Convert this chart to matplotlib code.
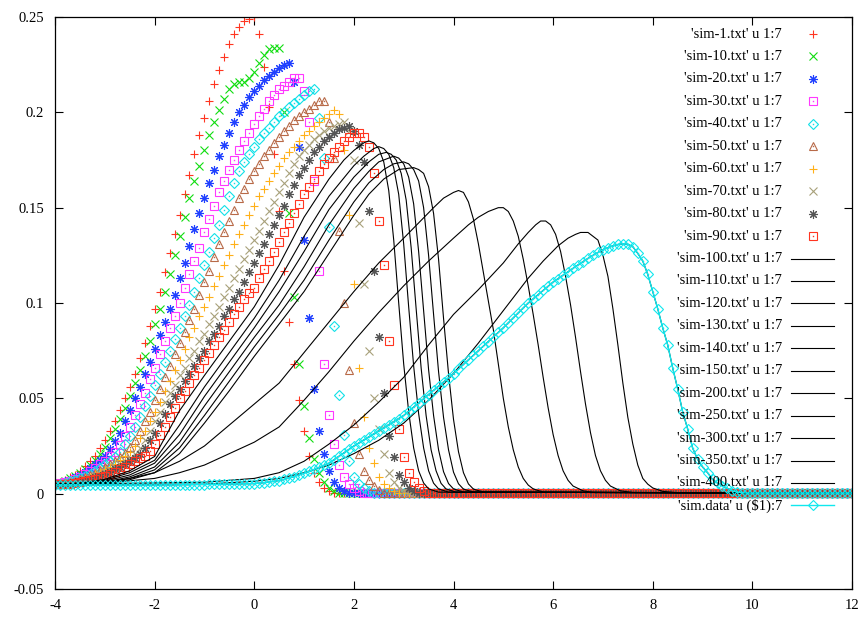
import numpy as np
import matplotlib.pyplot as plt

plt.rcParams['font.family'] = ['Liberation Serif', 'DejaVu Serif']

# marker runs: y read every 0.1 starting at x=-4, after the drop they sit on the baseline up to x=12
X_START, X_STEP, X_END = -4.0, 0.1, 12.0
BASELINE = 0.0003

sim1 = [0.005, 0.006, 0.007, 0.0085, 0.010, 0.012, 0.0145, 0.017, 0.020, 0.024,
        0.028, 0.033, 0.038, 0.044, 0.050, 0.056, 0.063, 0.071, 0.079, 0.088,
        0.097, 0.106, 0.116, 0.126, 0.136, 0.146, 0.157, 0.167, 0.178, 0.188,
        0.197, 0.206, 0.215, 0.222, 0.229, 0.236, 0.241, 0.245, 0.248, 0.249,
        0.250, 0.241, 0.224, 0.203, 0.178, 0.148, 0.117, 0.090, 0.068, 0.049,
        0.033, 0.020, 0.011, 0.006, 0.003, 0.0015]
sim10 = [0.005, 0.0058, 0.0068, 0.008, 0.0094, 0.011, 0.013, 0.0152, 0.0178, 0.021,
         0.0245, 0.029, 0.034, 0.039, 0.045, 0.051, 0.058, 0.065, 0.072, 0.080,
         0.089, 0.097, 0.106, 0.115, 0.125, 0.135, 0.145, 0.155, 0.164, 0.172,
         0.180, 0.188, 0.195, 0.201, 0.207, 0.212, 0.215, 0.216, 0.216, 0.218,
         0.221, 0.226, 0.230, 0.233, 0.234, 0.234, 0.200, 0.147, 0.103, 0.068,
         0.046, 0.029, 0.018, 0.011, 0.006, 0.003, 0.0015]
sim20 = [0.005, 0.0056, 0.0064, 0.0074, 0.0086, 0.010, 0.0115, 0.0133, 0.0153, 0.0175,
         0.020, 0.0235, 0.0275, 0.032, 0.038, 0.044, 0.050, 0.056, 0.063, 0.069,
         0.076, 0.083, 0.090, 0.097, 0.104, 0.113, 0.121, 0.130, 0.139, 0.147,
         0.155, 0.163, 0.170, 0.177, 0.183, 0.189, 0.195, 0.200, 0.204, 0.208,
         0.211, 0.214, 0.217, 0.219, 0.221, 0.223, 0.225, 0.226, 0.216, 0.182,
         0.133, 0.092, 0.055, 0.033, 0.021, 0.012, 0.006, 0.003, 0.0015]
sim30 = [0.005, 0.0054, 0.006, 0.0068, 0.0078, 0.0089, 0.0102, 0.0117, 0.0134, 0.0153,
         0.0173, 0.0195, 0.022, 0.0255, 0.030, 0.035, 0.041, 0.047, 0.053, 0.060,
         0.066, 0.073, 0.080, 0.087, 0.093, 0.100, 0.108, 0.115, 0.122, 0.129,
         0.137, 0.144, 0.151, 0.158, 0.164, 0.170, 0.175, 0.180, 0.185, 0.189,
         0.194, 0.198, 0.202, 0.206, 0.209, 0.212, 0.214, 0.216, 0.218, 0.218,
         0.211, 0.195, 0.164, 0.117, 0.068, 0.041, 0.026, 0.015, 0.009, 0.005,
         0.003, 0.0015]
sim40 = [0.005, 0.0053, 0.0058, 0.0065, 0.0073, 0.0082, 0.0093, 0.0105, 0.0119, 0.0135,
         0.0153, 0.0173, 0.0193, 0.022, 0.026, 0.030, 0.035, 0.040, 0.046, 0.051,
         0.057, 0.063, 0.069, 0.075, 0.081, 0.087, 0.093, 0.099, 0.106, 0.113,
         0.120, 0.127, 0.134, 0.141, 0.149, 0.156, 0.163, 0.169, 0.174, 0.178,
         0.182, 0.186, 0.189, 0.192, 0.195, 0.198, 0.200, 0.203, 0.205, 0.207,
         0.209, 0.211, 0.212, 0.197, 0.176, 0.140, 0.088, 0.052, 0.031, 0.017,
         0.009, 0.005, 0.003, 0.0015]
sim50 = [0.005, 0.0052, 0.0056, 0.0062, 0.0069, 0.0077, 0.0087, 0.0098, 0.011, 0.0124,
         0.014, 0.0157, 0.0172, 0.019, 0.0215, 0.0245, 0.028, 0.033, 0.038, 0.043,
         0.049, 0.055, 0.061, 0.067, 0.073, 0.079, 0.085, 0.091, 0.097, 0.104,
         0.111, 0.117, 0.124, 0.131, 0.137, 0.143, 0.149, 0.155, 0.160, 0.165,
         0.169, 0.173, 0.177, 0.180, 0.184, 0.187, 0.190, 0.193, 0.196, 0.198,
         0.200, 0.202, 0.204, 0.206, 0.206, 0.195, 0.176, 0.138, 0.100, 0.065,
         0.037, 0.021, 0.012, 0.007, 0.004, 0.002]
sim60 = [0.005, 0.0051, 0.0054, 0.0059, 0.0065, 0.0072, 0.008, 0.009, 0.0101, 0.0113,
         0.0127, 0.0142, 0.0158, 0.0176, 0.0195, 0.022, 0.025, 0.029, 0.033, 0.038,
         0.043, 0.048, 0.054, 0.059, 0.065, 0.070, 0.076, 0.082, 0.087, 0.093,
         0.098, 0.103, 0.109, 0.114, 0.120, 0.125, 0.131, 0.136, 0.141, 0.146,
         0.151, 0.156, 0.160, 0.164, 0.168, 0.172, 0.176, 0.179, 0.182, 0.185,
         0.188, 0.190, 0.193, 0.195, 0.197, 0.199, 0.201, 0.199, 0.180, 0.146,
         0.110, 0.066, 0.040, 0.024, 0.016, 0.009, 0.005, 0.003, 0.0015]
sim70 = [0.005, 0.005, 0.0053, 0.0057, 0.0062, 0.0068, 0.0075, 0.0083, 0.0092, 0.0102,
         0.0113, 0.0126, 0.014, 0.0155, 0.0171, 0.0188, 0.021, 0.024, 0.028, 0.033,
         0.038, 0.043, 0.048, 0.053, 0.057, 0.062, 0.066, 0.071, 0.075, 0.080,
         0.084, 0.089, 0.093, 0.098, 0.103, 0.108, 0.113, 0.118, 0.123, 0.128,
         0.133, 0.138, 0.143, 0.148, 0.153, 0.158, 0.163, 0.168, 0.173, 0.177,
         0.180, 0.183, 0.186, 0.188, 0.190, 0.192, 0.193, 0.194, 0.195, 0.190,
         0.175, 0.142, 0.110, 0.075, 0.050, 0.034, 0.021, 0.011, 0.006, 0.003,
         0.0015]
sim80 = [0.005, 0.005, 0.0052, 0.0055, 0.0059, 0.0064, 0.007, 0.0077, 0.0085, 0.0094,
         0.0104, 0.0115, 0.0127, 0.014, 0.0154, 0.0169, 0.0187, 0.021, 0.024, 0.028,
         0.032, 0.037, 0.042, 0.047, 0.051, 0.055, 0.059, 0.063, 0.067, 0.071,
         0.075, 0.080, 0.084, 0.088, 0.093, 0.097, 0.102, 0.106, 0.111, 0.116,
         0.121, 0.126, 0.131, 0.136, 0.141, 0.146, 0.151, 0.157, 0.162, 0.167,
         0.171, 0.175, 0.179, 0.182, 0.185, 0.187, 0.189, 0.191, 0.192, 0.193,
         0.190, 0.183, 0.174, 0.148, 0.117, 0.082, 0.053, 0.030, 0.019, 0.010,
         0.006, 0.003, 0.0015]
sim90 = [0.005, 0.005, 0.0051, 0.0053, 0.0056, 0.006, 0.0065, 0.0071, 0.0078, 0.0086,
         0.0095, 0.0105, 0.0116, 0.0128, 0.0141, 0.0155, 0.017, 0.0186, 0.020, 0.0225,
         0.026, 0.031, 0.035, 0.040, 0.045, 0.050, 0.054, 0.058, 0.062, 0.066,
         0.070, 0.074, 0.078, 0.082, 0.086, 0.090, 0.094, 0.098, 0.102, 0.105,
         0.108, 0.113, 0.118, 0.122, 0.127, 0.132, 0.137, 0.142, 0.147, 0.152,
         0.157, 0.161, 0.165, 0.169, 0.173, 0.176, 0.179, 0.182, 0.185, 0.187,
         0.189, 0.189, 0.187, 0.182, 0.168, 0.143, 0.120, 0.080, 0.057, 0.034,
         0.019, 0.011, 0.006, 0.003, 0.0015]

# line runs: (x, y) points
s100_x = [-4, -3.5, -3, -2.5, -2, -1.5, -1, -0.5, 0, 0.5, 1, 1.5, 1.8, 2, 2.2, 2.3, 2.4, 2.5, 2.6,
          2.7, 2.8, 2.9, 3.0, 3.1, 3.2, 3.3, 3.4, 3.5, 3.7, 12]
s100_y = [0.005, 0.0055, 0.0075, 0.012, 0.0195, 0.0435, 0.062, 0.080, 0.098, 0.120, 0.145, 0.165,
          0.175, 0.180, 0.184, 0.185, 0.184, 0.181, 0.174, 0.159, 0.133, 0.100, 0.068, 0.043,
          0.024, 0.012, 0.0056, 0.0025, 0.0008, 0.0003]
s110_x = [-4, -3.5, -3, -2.5, -2, -1.5, -1, -0.5, 0, 0.5, 1, 1.5, 2, 2.2, 2.4, 2.5, 2.6, 2.7,
          2.8, 2.9, 3.0, 3.1, 3.2, 3.3, 3.4, 3.5, 3.6, 3.7, 3.9, 12]
s110_y = [0.005, 0.0054, 0.007, 0.011, 0.0175, 0.036, 0.056, 0.074, 0.092, 0.112, 0.135, 0.156,
          0.172, 0.177, 0.181, 0.182, 0.181, 0.178, 0.171, 0.157, 0.131, 0.098, 0.067, 0.042,
          0.024, 0.012, 0.0055, 0.0025, 0.0008, 0.0003]
s120_x = [-4, -3.5, -3, -2.5, -2, -1.5, -1, -0.5, 0, 0.5, 1, 1.5, 2, 2.3, 2.5, 2.65, 2.75, 2.85,
          2.95, 3.05, 3.15, 3.25, 3.35, 3.45, 3.55, 3.65, 3.75, 3.85, 4.05, 12]
s120_y = [0.005, 0.0053, 0.0065, 0.0098, 0.016, 0.031, 0.051, 0.069, 0.087, 0.106, 0.127, 0.149,
          0.166, 0.174, 0.178, 0.179, 0.178, 0.175, 0.168, 0.154, 0.129, 0.097, 0.066, 0.041,
          0.023, 0.012, 0.0054, 0.0025, 0.0008, 0.0003]
s130_x = [-4, -3.5, -3, -2.5, -2, -1.5, -1, -0.5, 0, 0.5, 1, 1.5, 2, 2.3, 2.5, 2.7, 2.8, 2.9,
          3.0, 3.1, 3.2, 3.3, 3.4, 3.5, 3.6, 3.7, 3.8, 3.9, 4.0, 4.2, 12]
s130_y = [0.005, 0.0052, 0.006, 0.0088, 0.014, 0.027, 0.046, 0.064, 0.082, 0.099, 0.119, 0.141,
          0.160, 0.169, 0.174, 0.176, 0.177, 0.176, 0.173, 0.166, 0.152, 0.127, 0.096, 0.065,
          0.041, 0.023, 0.0115, 0.0053, 0.0025, 0.0008, 0.0003]
s140_x = [-4, -3.5, -3, -2.5, -2, -1.5, -1, -0.5, 0, 0.5, 1, 1.5, 2, 2.3, 2.6, 2.8, 3.0, 3.1,
          3.2, 3.3, 3.4, 3.5, 3.6, 3.7, 3.8, 3.9, 4.0, 4.1, 4.2, 4.4, 12]
s140_y = [0.005, 0.0051, 0.0057, 0.008, 0.0125, 0.024, 0.041, 0.059, 0.077, 0.094, 0.112, 0.133,
          0.153, 0.163, 0.170, 0.173, 0.174, 0.173, 0.170, 0.164, 0.150, 0.125, 0.094, 0.064,
          0.040, 0.023, 0.0113, 0.0052, 0.0024, 0.0008, 0.0003]
s150_x = [-4, -3.5, -3, -2.5, -2, -1.5, -1, -0.5, 0, 0.5, 1, 1.5, 2, 2.3, 2.6, 2.9, 3.2, 3.3,
          3.4, 3.5, 3.6, 3.7, 3.8, 3.9, 4.0, 4.1, 4.2, 4.3, 4.4, 4.6, 12]
s150_y = [0.005, 0.005, 0.0055, 0.0073, 0.011, 0.021, 0.037, 0.054, 0.072, 0.089, 0.106, 0.126,
          0.146, 0.157, 0.165, 0.170, 0.171, 0.170, 0.168, 0.161, 0.147, 0.123, 0.092, 0.063,
          0.039, 0.022, 0.011, 0.0051, 0.0024, 0.0008, 0.0003]
s200_x = [-4, -3, -2.5, -2, -1.5, -1, -0.5, 0, 0.5, 1, 1.5, 2, 2.5, 3, 3.3, 3.6, 3.8, 4.0, 4.1,
          4.2, 4.3, 4.4, 4.5, 4.6, 4.7, 4.8, 4.9, 5.0, 5.1, 5.2, 5.3, 5.4, 5.5, 5.6, 5.8, 12]
s200_y = [0.005, 0.006, 0.008, 0.011, 0.017, 0.025, 0.036, 0.047, 0.058, 0.074, 0.090, 0.106,
          0.121, 0.134, 0.142, 0.150, 0.155, 0.158, 0.159, 0.158, 0.153, 0.144, 0.131, 0.116,
          0.101, 0.086, 0.068, 0.050, 0.035, 0.023, 0.014, 0.008, 0.0045, 0.0025, 0.0008, 0.0003]
s250_x = [-4, -3, -2, -1.5, -1, -0.5, 0, 0.5, 1, 1.5, 2, 2.5, 3, 3.5, 4.0, 4.3, 4.5, 4.7, 4.8,
          4.9, 5.0, 5.1, 5.2, 5.3, 5.4, 5.5, 5.6, 5.7, 5.8, 5.9, 6.0, 6.1, 6.2, 6.3, 6.4, 6.6,
          6.8, 12]
s250_y = [0.005, 0.0055, 0.008, 0.011, 0.015, 0.021, 0.027, 0.035, 0.049, 0.064, 0.080, 0.095,
          0.109, 0.122, 0.134, 0.141, 0.145, 0.148, 0.149, 0.150, 0.150, 0.148, 0.143, 0.135,
          0.123, 0.109, 0.094, 0.078, 0.061, 0.045, 0.031, 0.020, 0.012, 0.007, 0.004, 0.0015,
          0.0006, 0.0003]
s300_x = [-4, -1, 0, 0.5, 1, 1.5, 2, 2.5, 3, 3.5, 4, 4.5, 5.0, 5.3, 5.5, 5.65, 5.75, 5.85, 5.95,
          6.05, 6.15, 6.25, 6.35, 6.45, 6.55, 6.65, 6.75, 6.85, 6.95, 7.05, 7.15, 7.35, 7.6, 12]
s300_y = [0.005, 0.006, 0.008, 0.011, 0.017, 0.026, 0.036, 0.048, 0.061, 0.078, 0.094, 0.107,
          0.121, 0.131, 0.137, 0.141, 0.143, 0.143, 0.141, 0.136, 0.127, 0.114, 0.099, 0.082,
          0.064, 0.047, 0.032, 0.020, 0.012, 0.007, 0.004, 0.0015, 0.0006, 0.0003]
s350_x = [-4, -1, 0, 0.5, 1, 1.5, 2, 2.5, 3, 3.5, 4, 4.5, 5, 5.5, 5.8, 6.1, 6.3, 6.45, 6.55,
          6.7, 6.9, 7.0, 7.1, 7.2, 7.3, 7.4, 7.5, 7.6, 7.7, 7.8, 7.9, 8.0, 8.2, 8.5, 12]
s350_y = [0.005, 0.005, 0.0065, 0.008, 0.011, 0.015, 0.021, 0.028, 0.037, 0.049, 0.063, 0.079,
          0.096, 0.113, 0.122, 0.130, 0.134, 0.136, 0.137, 0.137, 0.133, 0.125, 0.114, 0.097,
          0.078, 0.058, 0.040, 0.026, 0.015, 0.008, 0.005, 0.003, 0.0012, 0.0005, 0.0003]

# sim.data, every 0.1 from x=-4 (sim-400 lies underneath it)
simdata = [0.0045, 0.0045, 0.0045, 0.0045, 0.0045, 0.0045, 0.0045, 0.0045, 0.0045, 0.0045,
           0.0045, 0.0045, 0.0045, 0.0045, 0.0045, 0.0045, 0.0045, 0.0045, 0.0045, 0.0045,
           0.0045, 0.0045, 0.0046, 0.0046, 0.0046, 0.0047, 0.0047, 0.0047, 0.0048, 0.0048,
           0.0048, 0.0049, 0.0049, 0.0049, 0.0050, 0.0050, 0.0051, 0.0051, 0.0052, 0.0052,
           0.0053, 0.0055, 0.0058, 0.0061, 0.0065, 0.0069, 0.0075, 0.0082, 0.0090, 0.0099,
           0.0108, 0.0117, 0.0127, 0.0138, 0.0149, 0.016, 0.0178, 0.0196, 0.0214, 0.0232,
           0.025, 0.0266, 0.0282, 0.0298, 0.0314, 0.033, 0.0346, 0.0362, 0.0378, 0.0394,
           0.041, 0.0432, 0.0454, 0.0476, 0.0498, 0.052, 0.0542, 0.0564, 0.0586, 0.0608,
           0.063, 0.0654, 0.0678, 0.0702, 0.0726, 0.075, 0.0774, 0.0798, 0.0822, 0.0846,
           0.087, 0.0896, 0.0922, 0.0948, 0.0974, 0.100, 0.1022, 0.1044, 0.1066, 0.1088,
           0.111, 0.1128, 0.1146, 0.1164, 0.1182, 0.120, 0.1217, 0.1234, 0.125, 0.1265,
           0.128, 0.129, 0.130, 0.1307, 0.131, 0.1308, 0.1295, 0.126, 0.122, 0.115,
           0.106, 0.097, 0.087, 0.078, 0.066, 0.055, 0.043, 0.034, 0.024, 0.018,
           0.014, 0.011, 0.0075, 0.0055, 0.004, 0.0028, 0.0015, 0.0008, 0.0005]

marker_runs = [
    ("'sim-1.txt' u 1:7", sim1, '+', '#ff3520', 6.2, False),
    ("'sim-10.txt' u 1:7", sim10, 'x', '#10dd10', 5.2, False),
    ("'sim-20.txt' u 1:7", sim20, (8, 2, 0), '#2040ff', 6.5, False),
    ("'sim-30.txt' u 1:7", sim30, 's', '#ff38ff', 5.2, True),
    ("'sim-40.txt' u 1:7", sim40, 'D', '#10e0e8', 4.6, True),
    ("'sim-50.txt' u 1:7", sim50, '^', '#b86a48', 6, True),
    ("'sim-60.txt' u 1:7", sim60, '+', '#ffb018', 6.2, False),
    ("'sim-70.txt' u 1:7", sim70, 'x', '#a8a07a', 5.2, False),
    ("'sim-80.txt' u 1:7", sim80, (8, 2, 0), '#555555', 6.5, False),
    ("'sim-90.txt' u 1:7", sim90, 's', '#ff3520', 5.2, True),
]
line_runs = [
    ("'sim-100.txt' u 1:7", s100_x, s100_y),
    ("'sim-110.txt' u 1:7", s110_x, s110_y),
    ("'sim-120.txt' u 1:7", s120_x, s120_y),
    ("'sim-130.txt' u 1:7", s130_x, s130_y),
    ("'sim-140.txt' u 1:7", s140_x, s140_y),
    ("'sim-150.txt' u 1:7", s150_x, s150_y),
    ("'sim-200.txt' u 1:7", s200_x, s200_y),
    ("'sim-250.txt' u 1:7", s250_x, s250_y),
    ("'sim-300.txt' u 1:7", s300_x, s300_y),
    ("'sim-350.txt' u 1:7", s350_x, s350_y),
]

W, H = 863, 623
n_grid = int(round((X_END - X_START) / X_STEP)) + 1
xg = np.round(X_START + X_STEP * np.arange(n_grid), 2)


def on_grid(ys):
    return np.array(ys + [BASELINE] * (n_grid - len(ys)))


def fx(px):
    return px / W


def fy(py):
    return 1 - py / H


fig = plt.figure(figsize=(W / 100, H / 100), dpi=100)
ax = fig.add_axes([fx(55), fy(589), fx(852) - fx(55), fy(17) - fy(589)])

row_y = 34.0
row_dy = 22.45
text_x = 782
key_x0, key_x1, key_mid = 791, 834, 813
z = 2.0

for i, (label, ys, mk, col, ms, dot) in enumerate(marker_runs):
    z += 0.01
    ax.plot(xg, on_grid(ys), ls='none', marker=mk, ms=ms, mfc='none', mec=col, mew=0.8,
            zorder=z, clip_on=True)
    if dot:
        ax.plot(xg, on_grid(ys), ls='none', marker='s', ms=1.0, mfc=col, mec=col, mew=0, zorder=z)
    ry = row_y + row_dy * i
    fig.text(fx(text_x), fy(ry), label, ha='right', va='center', fontsize=10.5, zorder=z)
    fig.lines.append(plt.Line2D([fx(key_mid)], [fy(ry)], ls='none', marker=mk, ms=ms, mfc='none',
                                mec=col, mew=0.8, transform=fig.transFigure, zorder=z))
    if dot:
        fig.lines.append(plt.Line2D([fx(key_mid)], [fy(ry)], ls='none', marker='s', ms=1.0,
                                    mfc=col, mew=0, transform=fig.transFigure, zorder=z))

for j, (label, lx, ly) in enumerate(line_runs):
    z += 0.01
    ax.plot(lx, ly, color='black', lw=0.8, zorder=z)
    ry = row_y + row_dy * (len(marker_runs) + j)
    fig.text(fx(text_x), fy(ry), label, ha='right', va='center', fontsize=10.5, zorder=z)
    fig.lines.append(plt.Line2D([fx(key_x0), fx(key_x1)], [fy(ry), fy(ry)], color='black', lw=0.8,
                                transform=fig.transFigure, zorder=z))

# sim-400 coincides with sim.data and is drawn underneath it
z += 0.01
ax.plot(xg, on_grid(simdata), color='black', lw=0.8, zorder=z)
ry = row_y + row_dy * 20
fig.text(fx(text_x), fy(ry), "'sim-400.txt' u 1:7", ha='right', va='center', fontsize=10.5, zorder=z)
fig.lines.append(plt.Line2D([fx(key_x0), fx(key_x1)], [fy(ry), fy(ry)], color='black', lw=0.8,
                            transform=fig.transFigure, zorder=z))

z += 0.01
cy = '#10e8ee'
ax.plot(xg, on_grid(simdata), color=cy, lw=1.0, marker='D', ms=4.6, mfc='none', mec=cy, mew=0.8,
        zorder=z)
ax.plot(xg, on_grid(simdata), ls='none', marker='s', ms=1.0, mfc=cy, mew=0, zorder=z)
ry = row_y + row_dy * 21
fig.text(fx(text_x), fy(ry), "'sim.data' u ($1):7", ha='right', va='center', fontsize=10.5, zorder=z)
fig.lines.append(plt.Line2D([fx(key_x0), fx(key_x1)], [fy(ry), fy(ry)], color=cy, lw=1.0,
                            transform=fig.transFigure, zorder=z))
fig.lines.append(plt.Line2D([fx(key_mid)], [fy(ry)], ls='none', marker='D', ms=4.6, mfc='none',
                            mec=cy, mew=0.8, transform=fig.transFigure, zorder=z))

ax.set_xlim(-4, 12)
ax.set_ylim(-0.05, 0.25)
xt = [-4, -2, 0, 2, 4, 6, 8, 10, 12]
yt = [-0.05, 0, 0.05, 0.1, 0.15, 0.2, 0.25]
ax.set_xticks(xt)
ax.set_xticklabels([str(v) for v in xt])
ax.set_yticks(yt)
ax.set_yticklabels(['-0.05', '0', '0.05', '0.1', '0.15', '0.2', '0.25'])
ax.tick_params(direction='in', length=5.5, width=0.8, labelsize=10.5, top=True, right=True)
ax.tick_params(axis='y', pad=8)
ax.tick_params(axis='x', pad=7)
for sp in ax.spines.values():
    sp.set_linewidth(0.9)

fig.savefig('out.png', dpi=100)
